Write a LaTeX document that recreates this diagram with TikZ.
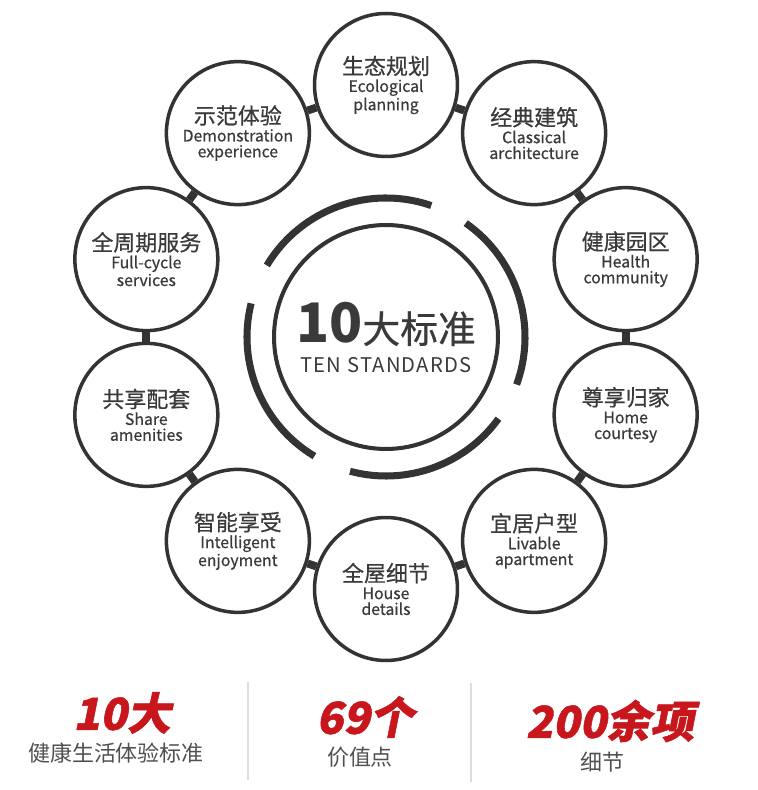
\documentclass[tikz,border=0pt]{standalone}
\usepackage{fontspec}
\setmainfont{Noto Sans CJK SC}
\newfontfamily\statfont{Noto Sans CJK SC}[FakeSlant=0.2,FakeBold=1.2]
\newfontfamily\ringfont{Noto Sans CJK SC}[FakeBold=0.6]
\newfontfamily\tenfont{Noto Sans CJK SC}[LetterSpace=6]
\usetikzlibrary{positioning}

\definecolor{ringgray}{HTML}{333333}
\definecolor{textdark}{HTML}{3A3A3A}
\definecolor{statred}{HTML}{C8161D}
\definecolor{subgray}{HTML}{505050}
\definecolor{rulegray}{HTML}{DDDDDD}

\newcommand{\zhsize}{\fontsize{12.5}{14}\selectfont}
\newcommand{\ensize}{\ringfont\fontsize{9}{9}\selectfont}

\tikzset{
  ringnode/.style={circle, draw=ringgray, line width=2pt, minimum size=2.86cm,
    inner sep=0pt, align=center, text=textdark, font=\ensize},
  link/.style={ringgray, line width=4.5pt},
  arcline/.style={ringgray, line width=4pt},
  stat/.style={text=statred, font=\statfont\bfseries\fontsize{25}{25}\selectfont},
  statsub/.style={text=subgray, font=\fontsize{12.5}{14}\selectfont},
  rule/.style={rulegray, line width=0.6pt}
}

\begin{document}
\begin{tikzpicture}[x=0.02cm,y=0.02cm]
  \useasboundingbox (-386,-453) rectangle (371,337);

  \node[circle, draw=ringgray, line width=2.3pt, minimum size=4.48cm] (core) at (0,0) {};
  \node[anchor=base, text=textdark] (title) at (0,-6)
    {{\fontsize{31}{31}\selectfont\bfseries 10}{\ringfont\fontsize{21.5}{22}\selectfont 大标准}};
  \node[anchor=base, text=textdark, font=\tenfont\fontsize{11.5}{12}\selectfont] (subtitle) at (0,-36)
    {TEN\ STANDARDS};

  \draw[arcline] (71:139) arc[start angle=71, end angle=149, radius=139];
  \draw[arcline] (-20:139) arc[start angle=-20, end angle=55, radius=139];
  \draw[arcline] (-105:139) arc[start angle=-105, end angle=-36, radius=139];
  \draw[arcline] (166:139) arc[start angle=166, end angle=239, radius=139];

  \foreach \ang/\name/\zh/\enA/\enB in {
      90/eco/生态规划/Ecological/planning,
      54/classic/经典建筑/Classical/architecture,
      18/health/健康园区/Health/community,
      -18/home/尊享归家/Home/courtesy,
      -54/livable/宜居户型/Livable/apartment,
      -90/house/全屋细节/House/details,
      -126/smart/智能享受/Intelligent/enjoyment,
      -162/share/共享配套/Share/amenities,
      162/service/全周期服务/Full-cycle/services,
      126/demo/示范体验/Demonstration/experience}
    \node[ringnode] (\name) at (\ang:252) {{\zhsize\zh}\\[1pt]\enA\\\enB};

  \foreach \a/\b in {eco/classic, classic/health, health/home, home/livable,
      livable/house, house/smart, smart/share, share/service, service/demo, demo/eco}
    \draw[link] (\a) -- (\b);

  \node[stat] (ten) at (-264,-376) {10大};
  \node[statsub] (tensub) at (-270,-416) {健康生活体验标准};
  \node[stat] (points) at (-21,-380) {69个};
  \node[statsub] (pointssub) at (-26,-420) {价值点};
  \node[stat] (items) at (224,-384) {200余项};
  \node[statsub] (itemssub) at (216,-425) {细节};

  \draw[rule] (-138,-345) -- (-138,-443);
  \draw[rule] (85,-346) -- (85,-445);
\end{tikzpicture}
\end{document}
